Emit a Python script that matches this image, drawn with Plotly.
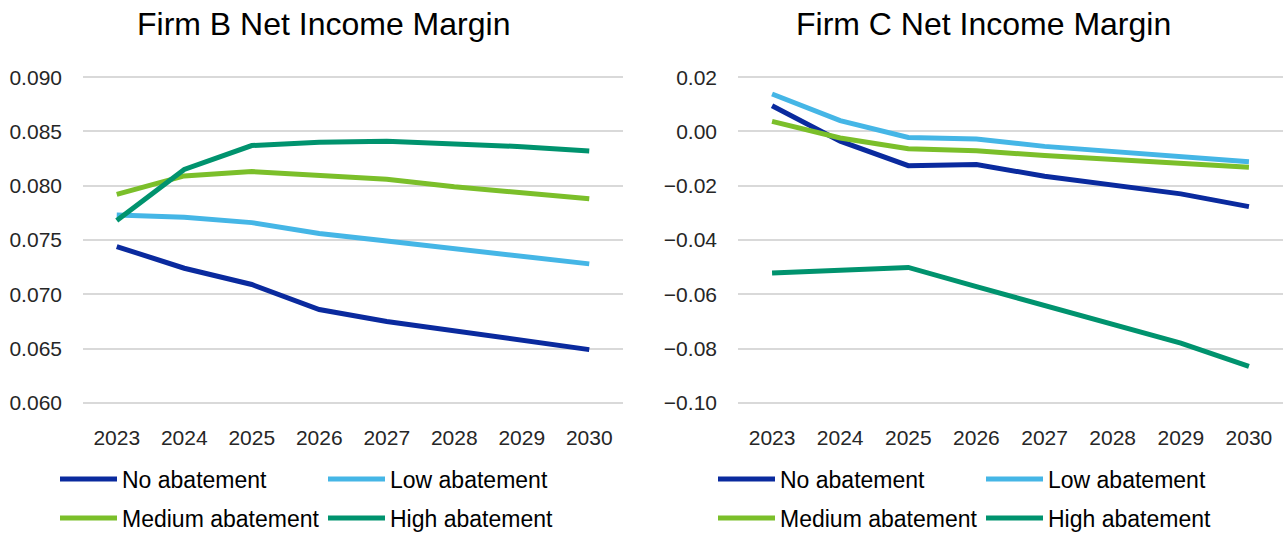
import plotly.graph_objects as go

years = ["2023", "2024", "2025", "2026", "2027", "2028", "2029", "2030"]
series_names = ["No abatement", "Low abatement", "Medium abatement", "High abatement"]

firm_b_no = [0.0744, 0.0724, 0.0709, 0.0686, 0.0675, 0.0666, 0.0658, 0.0649]
firm_b_low = [0.0773, 0.0771, 0.0766, 0.0756, 0.0749, 0.0742, 0.0735, 0.0728]
firm_b_med = [0.0792, 0.0809, 0.0813, 0.0809, 0.0806, 0.0799, 0.0793, 0.0788]
firm_b_high = [0.0768, 0.0815, 0.0837, 0.0840, 0.0841, 0.0839, 0.0836, 0.0832]

firm_c_no = [0.0095, -0.0036, -0.0126, -0.0122, -0.0165, -0.0198, -0.0230, -0.0277]
firm_c_low = [0.0138, 0.0040, -0.0022, -0.0028, -0.0055, -0.0073, -0.0091, -0.0112]
firm_c_med = [0.0037, -0.0024, -0.0064, -0.0071, -0.0089, -0.0104, -0.0118, -0.0132]
firm_c_high = [-0.0522, -0.0511, -0.0501, -0.0572, -0.0642, -0.0709, -0.0780, -0.0866]

colors = ["#0A2A9E", "#45B6E6", "#7BBF2A", "#00936E"]

W, H = 1283, 533
T, B = 75, 128
plot_h = H - T - B

fig = go.Figure()

b_series = [firm_b_no, firm_b_low, firm_b_med, firm_b_high]
c_series = [firm_c_no, firm_c_low, firm_c_med, firm_c_high]
b_legends = ["legend", "legend", "legend2", "legend2"]
c_legends = ["legend3", "legend3", "legend4", "legend4"]

for i, (name, vals) in enumerate(zip(series_names, b_series)):
    fig.add_trace(go.Scatter(x=years, y=vals, name=name, mode="lines",
                             line=dict(color=colors[i], width=5),
                             xaxis="x", yaxis="y", legend=b_legends[i]))
for i, (name, vals) in enumerate(zip(series_names, c_series)):
    fig.add_trace(go.Scatter(x=years, y=vals, name=name, mode="lines",
                             line=dict(color=colors[i], width=5),
                             xaxis="x2", yaxis="y2", legend=c_legends[i]))

tick_font = dict(family="Liberation Sans, Arial, sans-serif", size=21, color="#262626")
legend_font = dict(family="Liberation Sans, Arial, sans-serif", size=23, color="#000000")

def ypx(py):
    return (H - B - py) / plot_h

def leg(xpx, ycenter):
    return dict(orientation="h", x=xpx / W, xref="container", y=1 - ycenter / H,
                yref="container", yanchor="middle",
                xanchor="left", font=legend_font, entrywidth=196, entrywidthmode="pixels",
                itemwidth=57, bgcolor="rgba(0,0,0,0)", traceorder="normal", itemclick=False)

fig.update_layout(
    width=W, height=H,
    margin=dict(l=0, r=0, t=T, b=B, autoexpand=False),
    paper_bgcolor="white", plot_bgcolor="white",
    showlegend=True,
    xaxis=dict(domain=[83 / W, 623 / W], type="category", range=[-0.5, 7.5], showgrid=False,
               zeroline=False, showline=False, ticks="", tickfont=tick_font, ticklabelstandoff=18),
    yaxis=dict(range=[0.0598, 0.0902], tickvals=[0.060, 0.065, 0.070, 0.075, 0.080, 0.085, 0.090],
               tickformat=".3f", showgrid=True,
               gridcolor="#D9D9D9", gridwidth=2, zeroline=False, showline=False,
               ticks="", tickfont=tick_font, ticklabelstandoff=20),
    xaxis2=dict(domain=[738 / W, 1.0], type="category", range=[-0.5, 7.5], showgrid=False,
                zeroline=False, showline=False, ticks="", tickfont=tick_font, anchor="y2",
                ticklabelstandoff=18),
    yaxis2=dict(range=[-0.1008, 0.0208], tickvals=[-0.10, -0.08, -0.06, -0.04, -0.02, 0.0, 0.02],
                tickformat=".2f", showgrid=True,
                gridcolor="#D9D9D9", gridwidth=2, zeroline=False, showline=False,
                ticks="", tickfont=tick_font, anchor="x2", ticklabelstandoff=20),
    legend=leg(55, 479),
    legend2=leg(55, 518),
    legend3=leg(713, 479),
    legend4=leg(713, 518),
    annotations=[
        dict(text="Firm B Net Income Margin", x=323 / W, y=ypx(24), xref="paper", yref="paper",
             showarrow=False, xanchor="center", yanchor="middle",
             font=dict(family="Liberation Sans, Arial, sans-serif", size=32, color="#000000")),
        dict(text="Firm C Net Income Margin", x=983 / W, y=ypx(24), xref="paper", yref="paper",
             showarrow=False, xanchor="center", yanchor="middle",
             font=dict(family="Liberation Sans, Arial, sans-serif", size=32, color="#000000")),
    ],
)

fig.write_html("out.html")
